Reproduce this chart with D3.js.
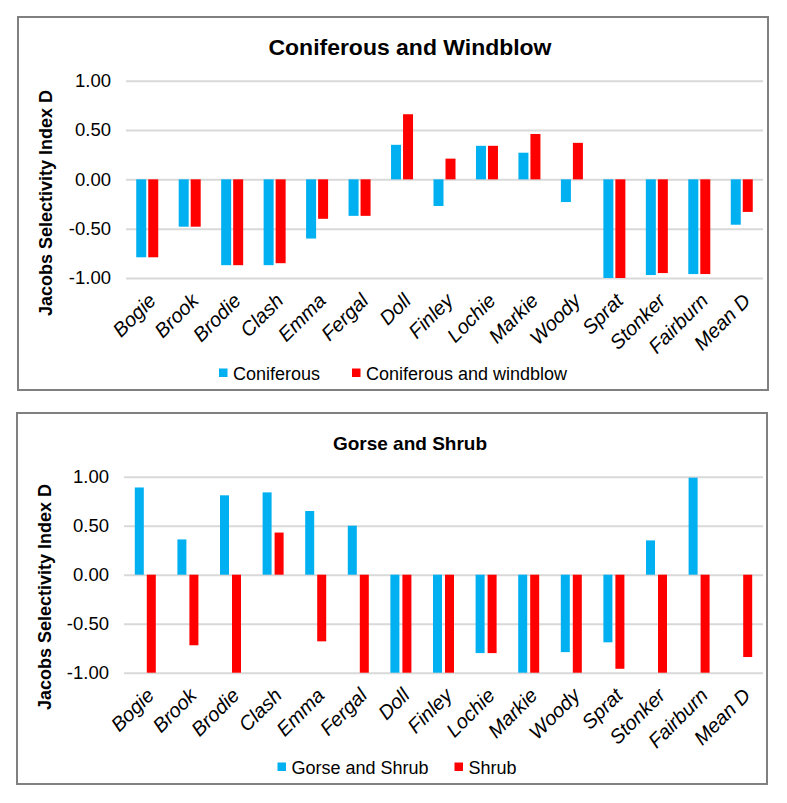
<!DOCTYPE html>
<html>
<head>
<meta charset="utf-8">
<script src="https://cdn.jsdelivr.net/npm/d3@7"></script>
<style>
  html, body { margin: 0; padding: 0; background: #fff; }
  svg { display: block; font-family: "Liberation Sans", Arial, sans-serif; }
</style>
</head>
<body>
<svg id="chart" width="787" height="803"></svg>
<script>
const categories = ["Bogie","Brook","Brodie","Clash","Emma","Fergal","Doll","Finley","Lochie","Markie","Woody","Sprat","Stonker","Fairburn","Mean D"];
const coniferous = [-0.79,-0.48,-0.87,-0.87,-0.60,-0.37,0.35,-0.27,0.34,0.27,-0.23,-1.00,-0.97,-0.96,-0.46];
const coniferousWindblow = [-0.79,-0.48,-0.87,-0.85,-0.40,-0.37,0.66,0.21,0.34,0.46,0.37,-1.00,-0.95,-0.96,-0.33];
const gorseShrub = [0.89,0.36,0.81,0.84,0.65,0.50,-1.00,-1.00,-0.80,-1.00,-0.79,-0.69,0.35,0.99,null];
const shrub = [-1.00,-0.72,-1.00,0.43,-0.68,-1.00,-1.00,-1.00,-0.80,-1.00,-1.00,-0.96,-1.00,-1.00,-0.84];
const yTicks = [1.00, 0.50, 0.00, -0.50, -1.00];
const yTitle = "Jacobs Selectivity Index D";

const svg = d3.select("#chart");
const BLUE = "#00B0F0", RED = "#FF0000";

function panel(cfg) {
  const g = svg.append("g");
  // frame
  g.append("rect")
    .attr("x", cfg.box[0]).attr("y", cfg.box[1])
    .attr("width", cfg.box[2] - cfg.box[0]).attr("height", cfg.box[3] - cfg.box[1])
    .attr("fill", "#fff").attr("stroke", "#808080").attr("stroke-width", 2);

  const x0 = d3.scaleBand().domain(categories).range([cfg.left, cfg.right]).paddingInner(0).paddingOuter(0);
  const y = d3.scaleLinear().domain([-1, 1]).range([cfg.yBottom, cfg.yTop]);

  // gridlines + y labels
  const yAxis = d3.axisLeft(y).tickValues(yTicks)
    .tickSize(-(cfg.right - cfg.left)).tickPadding(15)
    .tickFormat(d => d.toFixed(2));
  const ya = g.append("g").attr("transform", `translate(${cfg.left},0)`).call(yAxis);
  ya.select(".domain").remove();
  ya.selectAll(".tick line").attr("stroke", "#D9D9D9").attr("stroke-width", 2);
  ya.selectAll(".tick text").attr("font-size", 18.5).attr("fill", "#000")
    .attr("font-family", "Liberation Sans, Arial, sans-serif");

  // bars
  const series = cfg.series;
  const bars = g.append("g");
  series.forEach((s, si) => {
    bars.selectAll(null)
      .data(categories.map((c, i) => ({ c, v: s.values[i] })).filter(d => d.v !== null))
      .enter().append("rect")
      .attr("x", d => {
        const cx = x0(d.c) + x0.bandwidth() / 2;
        const x1 = d3.scaleBand().domain(series.map(s => s.name))
          .range([cx - cfg.group / 2, cx + cfg.group / 2]).paddingInner(cfg.pad);
        return x1(s.name);
      })
      .attr("width", () => {
        const x1 = d3.scaleBand().domain(series.map(s => s.name))
          .range([0, cfg.group]).paddingInner(cfg.pad);
        return x1.bandwidth();
      })
      .attr("y", d => y(Math.max(0, d.v)))
      .attr("height", d => Math.abs(y(d.v) - y(0)))
      .attr("fill", s.color);
  });

  // x labels
  const xAxis = d3.axisBottom(x0).tickSize(0).tickPadding(0);
  const xa = g.append("g").attr("transform", `translate(0,${cfg.yBottom})`).call(xAxis);
  xa.select(".domain").remove();
  xa.selectAll(".tick text")
    .attr("font-size", 20).attr("font-style", "italic").attr("fill", "#000")
    .attr("font-family", "Liberation Sans, Arial, sans-serif")
    .attr("text-anchor", "end")
    .attr("dy", null).attr("y", null)
    .attr("transform", "translate(10,24) rotate(-45)");

  // title
  const t = g.append("text")
    .attr("x", cfg.titleX).attr("y", cfg.titleY)
    .attr("text-anchor", "middle").attr("font-weight", "bold")
    .attr("font-size", cfg.titleSize).attr("fill", "#000")
    .text(cfg.title);
  if (cfg.titleLen) t.attr("textLength", cfg.titleLen).attr("lengthAdjust", "spacingAndGlyphs");

  // y title
  g.append("text")
    .attr("transform", `translate(${cfg.yTitleX},${cfg.yTitleY}) rotate(-90)`)
    .attr("text-anchor", "middle").attr("font-weight", "bold")
    .attr("font-size", 18).attr("fill", "#000")
    .text(yTitle);

  // legend
  const lg = g.append("g");
  series.forEach((s, si) => {
    const lx = cfg.legendX[si];
    lg.append("rect").attr("x", lx).attr("y", cfg.legendY - 4.5)
      .attr("width", 8.5).attr("height", 8.5).attr("fill", s.color);
    lg.append("text").attr("x", lx + 14).attr("y", cfg.legendY + 6.5)
      .attr("font-size", 18).attr("fill", "#000").text(s.name);
  });
}

panel({
  box: [18, 17, 768, 390],
  left: 126, right: 763, yTop: 80.7, yBottom: 278,
  group: 22, pad: 0.1667,
  title: "Coniferous and Windblow", titleX: 410, titleY: 55, titleSize: 22, titleLen: 283,
  yTitleX: 52, yTitleY: 203,
  series: [
    { name: "Coniferous", values: coniferous, color: BLUE },
    { name: "Coniferous and windblow", values: coniferousWindblow, color: RED }
  ],
  legendX: [219, 352], legendY: 373
});

panel({
  box: [17, 413, 767, 784],
  left: 124, right: 763, yTop: 476.7, yBottom: 672.7,
  group: 21, pad: 0.25,
  title: "Gorse and Shrub", titleX: 410, titleY: 450, titleSize: 19,
  yTitleX: 51, yTitleY: 597,
  series: [
    { name: "Gorse and Shrub", values: gorseShrub, color: BLUE },
    { name: "Shrub", values: shrub, color: RED }
  ],
  legendX: [277.5, 454.5], legendY: 767
});
</script>
</body>
</html>
